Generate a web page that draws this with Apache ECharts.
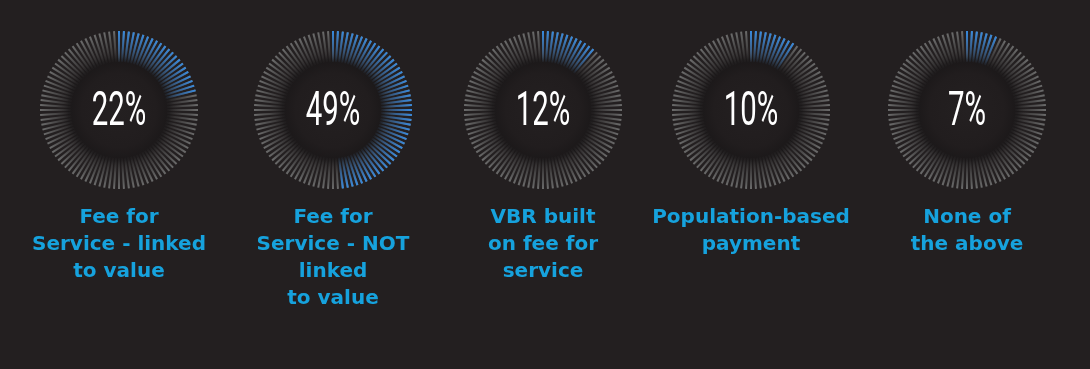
<!DOCTYPE html>
<html><head><meta charset="utf-8">
<script src="https://cdn.jsdelivr.net/npm/echarts@6/dist/echarts.min.js"></script>
<style>html,body{margin:0;padding:0;background:#231f20}#c{width:1090px;height:369px}</style>
</head><body><div id="c"></div>
<script>
const categories = [
  "Fee for\nService - linked\nto value",
  "Fee for\nService - NOT\nlinked\nto value",
  "VBR built\non fee for\nservice",
  "Population-based\npayment",
  "None of\nthe above"
];
const values = [22, 49, 12, 10, 7];
const percentLabels = ["22%", "49%", "12%", "10%", "7%"];

const centersX = [119, 333, 543, 751, 967];
const CY = 110, R = 79, LEN = 31;

function grad(cx, color, colorTrans) {
  return { type: 'radial', x: cx, y: CY, r: R, global: true,
    colorStops: [
      { offset: 0, color: colorTrans },
      { offset: 0.6, color: colorTrans },
      { offset: 0.8, color: color.mid },
      { offset: 1, color: color.end }
    ] };
}
const gray = { mid: 'rgba(95,95,95,0.6)', end: 'rgba(108,108,108,1)' };
const blue = { mid: 'rgba(42,115,195,0.6)', end: 'rgba(55,138,222,1)' };

const series = [];
const graphic = [];
values.forEach((v, i) => {
  const cx = centersX[i];
  graphic.push({
    type: 'circle', z: -1, shape: { cx: cx, cy: CY, r: 62 },
    style: { fill: { type: 'radial', x: 0.5, y: 0.5, r: 0.5, colorStops: [
      { offset: 0, color: '#242021' }, { offset: 0.6, color: '#211d1e' },
      { offset: 0.82, color: '#1b1819' }, { offset: 1, color: 'rgba(35,31,32,0)' } ] } }
  });
  const base = {
    type: 'gauge', center: [cx, CY], radius: R, startAngle: 90, clockwise: true,
    axisLine: { show: false, lineStyle: { width: 0 } },
    axisTick: { show: false }, axisLabel: { show: false },
    pointer: { show: false }, progress: { show: false },
    anchor: { show: false }, title: { show: false }, detail: { show: false },
    silent: true, animation: false
  };
  series.push(Object.assign({}, base, {
    endAngle: -270, min: 0, max: 100, splitNumber: 100, z: 2,
    splitLine: { show: true, distance: 0, length: LEN,
      lineStyle: { width: 2, color: grad(cx, gray, 'rgba(95,95,95,0)') } },
    data: [{ value: v }]
  }));
  series.push(Object.assign({}, base, {
    endAngle: 90 - 3.6 * (v - 1), min: 0, max: v - 1, splitNumber: v - 1, z: 3,
    splitLine: { show: true, distance: 0, length: LEN,
      lineStyle: { width: 2, color: grad(cx, blue, 'rgba(42,115,195,0)') } },
    data: [{ value: v }]
  }));
  graphic.push({
    type: 'text', x: cx, y: CY + 3, scaleX: 0.6, z: 10,
    style: { text: percentLabels[i], fill: '#ffffff', font: '400 49px Roboto',
      textAlign: 'center', textVerticalAlign: 'middle' }
  });
  graphic.push({
    type: 'text', x: cx, y: 204, z: 10,
    style: { text: categories[i], fill: '#16a2dd', font: 'bold 20px "DejaVu Sans"',
      lineHeight: 27, textAlign: 'center', textVerticalAlign: 'top' }
  });
});

const chart = echarts.init(document.getElementById('c'), null, { renderer: 'canvas' });
chart.setOption({ backgroundColor: '#231f20', animation: false, series: series, graphic: graphic });
</script>
</body></html>
